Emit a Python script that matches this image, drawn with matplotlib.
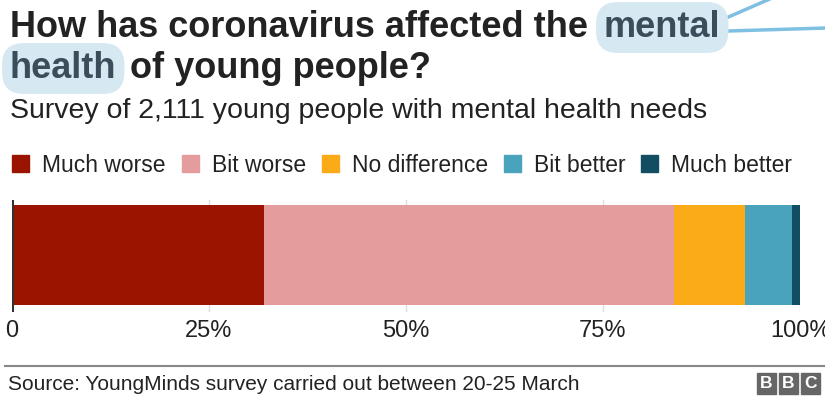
import matplotlib
matplotlib.use('Agg')
import matplotlib.pyplot as plt
from matplotlib.lines import Line2D

plt.rcParams['font.family'] = ['Liberation Sans', 'DejaVu Sans']

#survey answers, percent of respondents
categories = ['Much worse', 'Bit worse', 'No difference', 'Bit better', 'Much better']
values = [32, 52, 9, 6, 1]
colours = ['#9a1400', '#e49c9d', '#fbab18', '#4aa3bd', '#124d61']
tick_pos = [0, 25, 50, 75, 100]
tick_labels = ['0', '25%', '50%', '75%', '100%']

W, H = 825, 398
fig = plt.figure(figsize=(W / 100, H / 100), dpi=100)

def fx(px):
    return px / W

def fy(py):
    return 1 - py / H

#bar axes
ax = fig.add_axes([fx(12), fy(312), fx(800) - fx(12), fy(200) - fy(312)])
left = 0
for cat, val, col in zip(categories, values, colours):
    ax.barh(0, val, left=left, height=1.0, color=col, zorder=2)
    left += val
ax.set_xlim(0, 100)
ax.set_ylim(-0.57, 0.55)
for t in tick_pos[1:]:
    ax.axvline(t, color='#dddddd', lw=1, zorder=1)
ax.axvline(0, color='#333333', lw=2.2, zorder=3)
for s in ax.spines.values():
    s.set_visible(False)
ax.set_yticks([])
ax.set_xticks(tick_pos)
ax.set_xticklabels(tick_labels, fontsize=17, color='#222222')
ax.tick_params(axis='x', length=0, pad=6)
for lab in ax.get_xticklabels():
    lab.set_clip_on(False)

#title with highlighted words
r = fig.canvas.get_renderer()
TS = 26
hl = dict(boxstyle='round,pad=0.22,rounding_size=0.6', fc='#d6e9f3', ec='none')
t1 = fig.text(fx(10), fy(37), 'How has coronavirus affected the', fontsize=TS,
              fontweight='bold', color='#222222', va='baseline', ha='left')
bb = t1.get_window_extent(r)
t_m = fig.text(fx(bb.x1 + 16), fy(37), 'mental', fontsize=TS, fontweight='bold',
               color='#3b4d5a', va='baseline', ha='left', bbox=hl)
t2 = fig.text(fx(10), fy(78), 'health', fontsize=TS, fontweight='bold',
              color='#3b4d5a', va='baseline', ha='left', bbox=hl)
bb2 = t2.get_window_extent(r)
fig.text(fx(bb2.x1 + 14), fy(78), 'of young people?', fontsize=TS,
         fontweight='bold', color='#222222', va='baseline', ha='left')

#pointer lines from the highlight
fig.draw(r)
mb = t_m.get_bbox_patch().get_window_extent(r)
xe = mb.x1
fig.add_artist(Line2D([xe / W, fx(772)], [fy(17), fy(-2)], color='#7fc0e2', lw=2.5))
fig.add_artist(Line2D([xe / W, fx(826)], [fy(31), fy(28)], color='#7fc0e2', lw=2.5))

fig.text(fx(10), fy(118), 'Survey of 2,111 young people with mental health needs',
         fontsize=20.5, color='#222222', va='baseline', ha='left')

#legend
x = 12
for cat, col in zip(categories, colours):
    fig.patches.append(plt.Rectangle((fx(x), fy(172)), fx(17), fy(155) - fy(172),
                                     transform=fig.transFigure, color=col, figure=fig))
    t = fig.text(fx(x + 30), fy(172), cat, fontsize=16.5, color='#222222',
                 va='baseline', ha='left')
    x = t.get_window_extent(r).x1 + 16

#footer
fig.add_artist(Line2D([fx(5), fx(825)], [fy(366), fy(366)], color='#888888', lw=1.5))
fig.text(fx(8), fy(390), 'Source: YoungMinds survey carried out between 20-25 March',
         fontsize=15, color='#222222', va='baseline', ha='left')
for i, letter in enumerate('BBC'):
    bx = 757 + i * 22
    fig.patches.append(plt.Rectangle((fx(bx), fy(394)), fx(19), fy(373) - fy(394),
                                     transform=fig.transFigure, color='#666666', figure=fig))
    fig.text(fx(bx + 9.5), fy(383.5), letter, fontsize=12.5, fontweight='bold',
             color='white', va='center', ha='center')

fig.savefig('out.png', dpi=100)
